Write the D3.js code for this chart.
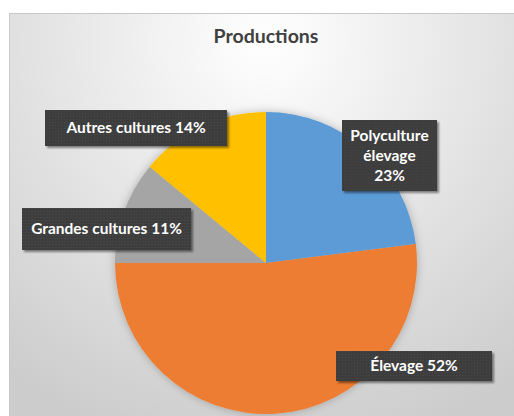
<!DOCTYPE html>
<html>
<head>
<meta charset="utf-8">
<script src="https://cdn.jsdelivr.net/npm/d3@7"></script>
<style>
  body { margin: 0; background: #fff; }
  svg { display: block; }
  text { font-family: Lato, "Noto Sans", sans-serif; }
</style>
</head>
<body>
<script>
// data
var categories = ["Polyculture élevage", "Élevage", "Grandes cultures", "Autres cultures"];
var values = [23, 52, 11, 14];
var colors = ["#5b9bd5", "#ed7d31", "#a5a5a5", "#ffc000"];
// label text lines, as shown in the boxes
var labelLines = [["Polyculture", "élevage", "23%"], ["Élevage 52%"], ["Grandes cultures 11%"], ["Autres cultures 14%"]];
// where each label box sits, relative to the pie centre, and its size (placed by hand in the original)
var labelPos = [[123.5, -107.5], [148, 103], [-159.5, -34], [-130, -135]];
var labelSize = [[95, 71], [156, 30], [169, 42], [182, 36]];

var width = 514, height = 416;
var cx = 266, cy = 263, radius = 151;

var svg = d3.select("body").append("svg")
  .attr("width", width)
  .attr("height", height);

var defs = svg.append("defs");

//background gradient of the chart area
var grad = defs.append("radialGradient")
  .attr("id", "bg")
  .attr("gradientUnits", "userSpaceOnUse")
  .attr("cx", 266).attr("cy", 40).attr("r", 420);
grad.append("stop").attr("offset", "0%").attr("stop-color", "#ffffff");
grad.append("stop").attr("offset", "100%").attr("stop-color", "#cccccc");

//shadows
var sh = defs.append("filter").attr("id", "pieShadow")
  .attr("x", "-20%").attr("y", "-20%").attr("width", "140%").attr("height", "140%");
sh.append("feDropShadow").attr("dx", 0).attr("dy", 0).attr("stdDeviation", 4)
  .attr("flood-color", "#000").attr("flood-opacity", 0.25);

var bs = defs.append("filter").attr("id", "boxShadow")
  .attr("x", "-20%").attr("y", "-20%").attr("width", "140%").attr("height", "160%");
bs.append("feDropShadow").attr("dx", 2).attr("dy", 2).attr("stdDeviation", 1.2)
  .attr("flood-color", "#000").attr("flood-opacity", 0.45);

//dotted texture of the label boxes
var pat = defs.append("pattern").attr("id", "dots")
  .attr("patternUnits", "userSpaceOnUse").attr("width", 3).attr("height", 3);
pat.append("rect").attr("width", 3).attr("height", 3).attr("fill", "#3d3d3d");
pat.append("rect").attr("width", 1).attr("height", 1).attr("fill", "#4a4a4a");

//chart area
svg.append("rect")
  .attr("x", 9.5).attr("y", 13.5)
  .attr("width", width).attr("height", height)
  .attr("fill", "url(#bg)")
  .attr("stroke", "#c8c8c8");

svg.append("text")
  .attr("x", 266).attr("y", 43)
  .attr("text-anchor", "middle")
  .attr("font-size", 19.5).attr("font-weight", 700)
  .attr("fill", "#404040")
  .text("Productions");

var pie = d3.pie().sort(null).value(function(d){ return d; });
var arc = d3.arc().innerRadius(0).outerRadius(radius);

var g = svg.append("g").attr("transform", "translate(" + cx + "," + cy + ")");

g.append("g").attr("filter", "url(#pieShadow)")
  .selectAll("path")
  .data(pie(values))
  .enter()
  .append("path")
  .attr("d", arc)
  .attr("fill", function(d, i){ return colors[i]; });

//label boxes
var lineH = 20;
var labels = g.selectAll(".lab")
  .data(labelLines)
  .enter()
  .append("g")
  .attr("class", "lab")
  .attr("transform", function(d, i){ return "translate(" + labelPos[i][0] + "," + labelPos[i][1] + ")"; });

labels.append("rect")
  .attr("x", function(d, i){ return -labelSize[i][0] / 2; })
  .attr("y", function(d, i){ return -labelSize[i][1] / 2; })
  .attr("width", function(d, i){ return labelSize[i][0]; })
  .attr("height", function(d, i){ return labelSize[i][1]; })
  .attr("fill", "url(#dots)")
  .attr("filter", "url(#boxShadow)");

labels.append("text")
  .attr("text-anchor", "middle")
  .attr("font-size", 15.5).attr("font-weight", 700)
  .attr("fill", "#ffffff")
  .selectAll("tspan")
  .data(function(d){ return d.map(function(s, k){ return {s: s, k: k, n: d.length}; }); })
  .enter()
  .append("tspan")
  .attr("x", 0)
  .attr("y", function(d){ return (d.k - (d.n - 1) / 2) * lineH + 5; })
  .text(function(d){ return d.s; });
</script>
</body>
</html>
